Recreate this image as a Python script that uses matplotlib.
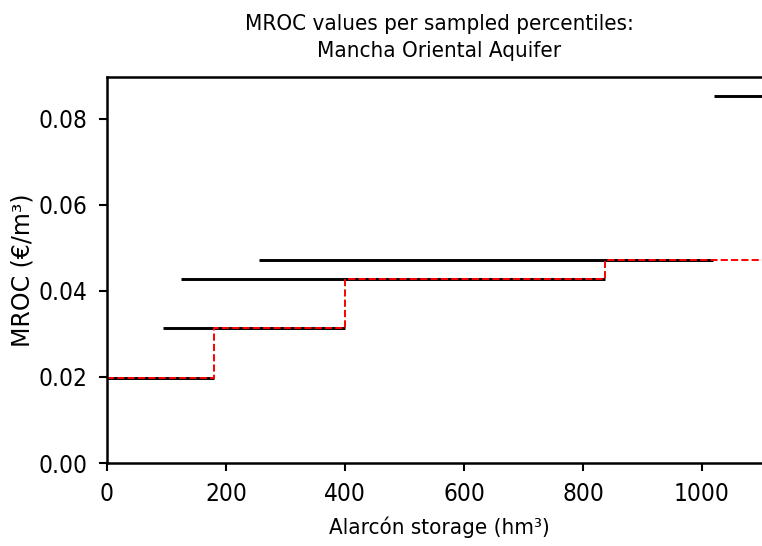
import matplotlib.pyplot as plt
import numpy as np

# MROC per sampled percentile (black segments)
mroc_vals = [0.0197, 0.0314, 0.0427, 0.0472, 0.0853]
seg_start = [0, 94, 124, 255, 1020]
seg_end = [180, 400, 837, 1018, 1250]

# stepped envelope (red dashed)
step_x = [0, 180, 400, 837, 1250]
step_y = [0.0197, 0.0314, 0.0427, 0.0472, 0.0472]

fnt = dict(family='DejaVu Sans', stretch='condensed')

fig = plt.figure(figsize=(7.62, 5.46), dpi=100)
ax = fig.add_axes([0.1404, 0.152, 0.8714, 0.7075])

ax.hlines(mroc_vals, seg_start, seg_end, colors='black', linewidth=2.1)
ax.plot(step_x, step_y, drawstyle='steps-post', color='red',
        linestyle='--', linewidth=1.4)

ax.set_xlim(0, 1116)
ax.set_ylim(0, 0.0898)
ax.set_xticks([0, 200, 400, 600, 800, 1000])
ax.set_yticks([0.0, 0.02, 0.04, 0.06, 0.08])

for s in ax.spines.values():
    s.set_linewidth(1.8)
ax.tick_params(length=6, width=1.5, labelsize=17.5, pad=8)
for lab in ax.get_xticklabels() + ax.get_yticklabels():
    lab.set_fontstretch('condensed')

ax.set_xlabel('Alarcón storage (hm³)', fontsize=16, labelpad=7, **fnt)
ax.set_ylabel('MROC (€/m³)', fontsize=17, labelpad=3, family='DejaVu Sans')
ax.set_title('MROC values per sampled percentiles:\nMancha Oriental Aquifer',
             fontsize=16, pad=14, linespacing=1.48, **fnt)

plt.savefig('out.png', dpi=100)
